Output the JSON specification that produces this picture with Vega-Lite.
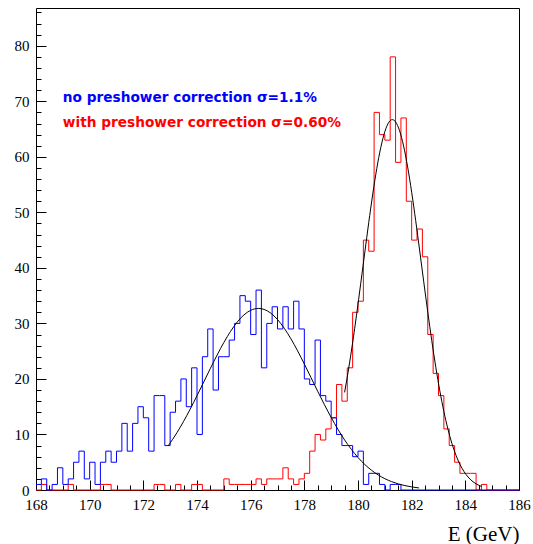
{
  "$schema": "https://vega.github.io/schema/vega-lite/v6.json",
  "width": 483,
  "height": 482,
  "autosize": {"type": "none"},
  "padding": {"left": 36, "top": 8, "right": 14, "bottom": 54},
  "background": "white",
  "config": {
    "view": {"stroke": "black", "strokeWidth": 1},
    "axis": {"grid": false, "domain": false, "labelOverlap": false, "labelFlush": false, "tickColor": "black", "labelColor": "black", "tickWidth": 1}
  },
  "resolve": {"axis": {"x": "independent", "y": "independent"}},
  "datasets": {
    "blue": [
      {"E":168,"n":1},{"E":168.2,"n":2},{"E":168.4,"n":0},{"E":168.6,"n":1},{"E":168.8,"n":4},
      {"E":169,"n":1},{"E":169.2,"n":2},{"E":169.4,"n":5},{"E":169.6,"n":7},{"E":169.8,"n":2},
      {"E":170,"n":5},{"E":170.2,"n":1},{"E":170.4,"n":5},{"E":170.6,"n":7},{"E":170.8,"n":5},
      {"E":171,"n":7},{"E":171.2,"n":12},{"E":171.4,"n":7},{"E":171.6,"n":12},{"E":171.8,"n":15},
      {"E":172,"n":13},{"E":172.2,"n":7},{"E":172.4,"n":17},{"E":172.6,"n":17},{"E":172.8,"n":8},
      {"E":173,"n":14},{"E":173.2,"n":16},{"E":173.4,"n":20},{"E":173.6,"n":15},{"E":173.8,"n":22},
      {"E":174,"n":10},{"E":174.2,"n":24},{"E":174.4,"n":29},{"E":174.6,"n":18},{"E":174.8,"n":24},
      {"E":175,"n":24},{"E":175.2,"n":27},{"E":175.4,"n":30},{"E":175.6,"n":35},{"E":175.8,"n":34},
      {"E":176,"n":28},{"E":176.2,"n":36},{"E":176.4,"n":22},{"E":176.6,"n":30},{"E":176.8,"n":33},
      {"E":177,"n":29},{"E":177.2,"n":33},{"E":177.4,"n":29},{"E":177.6,"n":34},{"E":177.8,"n":29},
      {"E":178,"n":20},{"E":178.2,"n":19},{"E":178.4,"n":27},{"E":178.6,"n":17},{"E":178.8,"n":16},
      {"E":179,"n":13},{"E":179.2,"n":10},{"E":179.4,"n":8},{"E":179.6,"n":8},{"E":179.8,"n":6},
      {"E":180,"n":7},{"E":180.2,"n":1},{"E":180.4,"n":3},{"E":180.6,"n":3},{"E":180.8,"n":1},
      {"E":181,"n":0},{"E":181.2,"n":1},{"E":181.4,"n":1},{"E":181.6,"n":0},{"E":181.8,"n":0},
      {"E":182,"n":0},{"E":182.2,"n":0},{"E":182.4,"n":0},{"E":182.6,"n":0},{"E":182.8,"n":0},
      {"E":183,"n":0},{"E":183.2,"n":0},{"E":183.4,"n":0},{"E":183.6,"n":0},{"E":183.8,"n":0},
      {"E":184,"n":0},{"E":184.2,"n":0},{"E":184.4,"n":0},{"E":184.6,"n":0},{"E":184.8,"n":0},
      {"E":185,"n":0},{"E":185.2,"n":0},{"E":185.4,"n":0},{"E":185.6,"n":0},{"E":185.8,"n":0},
      {"E":186,"n":0}
    ],
    "red": [
      {"E":168,"n":0},{"E":168.2,"n":1},{"E":168.4,"n":0},{"E":168.6,"n":0},{"E":168.8,"n":0},
      {"E":169,"n":0},{"E":169.2,"n":1},{"E":169.4,"n":0},{"E":169.6,"n":0},{"E":169.8,"n":0},
      {"E":170,"n":0},{"E":170.2,"n":0},{"E":170.4,"n":1},{"E":170.6,"n":1},{"E":170.8,"n":0},
      {"E":171,"n":0},{"E":171.2,"n":0},{"E":171.4,"n":0},{"E":171.6,"n":0},{"E":171.8,"n":0},
      {"E":172,"n":0},{"E":172.2,"n":0},{"E":172.4,"n":1},{"E":172.6,"n":1},{"E":172.8,"n":0},
      {"E":173,"n":0},{"E":173.2,"n":1},{"E":173.4,"n":0},{"E":173.6,"n":0},{"E":173.8,"n":1},
      {"E":174,"n":1},{"E":174.2,"n":0},{"E":174.4,"n":0},{"E":174.6,"n":0},{"E":174.8,"n":0},
      {"E":175,"n":2},{"E":175.2,"n":1},{"E":175.4,"n":1},{"E":175.6,"n":1},{"E":175.8,"n":1},
      {"E":176,"n":1},{"E":176.2,"n":2},{"E":176.4,"n":1},{"E":176.6,"n":2},{"E":176.8,"n":2},
      {"E":177,"n":2},{"E":177.2,"n":4},{"E":177.4,"n":2},{"E":177.6,"n":1},{"E":177.8,"n":2},
      {"E":178,"n":3},{"E":178.2,"n":7},{"E":178.4,"n":10},{"E":178.6,"n":9},{"E":178.8,"n":11},
      {"E":179,"n":13},{"E":179.2,"n":19},{"E":179.4,"n":16},{"E":179.6,"n":22},{"E":179.8,"n":32},
      {"E":180,"n":34},{"E":180.2,"n":45},{"E":180.4,"n":43},{"E":180.6,"n":68},{"E":180.8,"n":64},
      {"E":181,"n":63},{"E":181.2,"n":78},{"E":181.4,"n":59},{"E":181.6,"n":67},{"E":181.8,"n":52},
      {"E":182,"n":45},{"E":182.2,"n":47},{"E":182.4,"n":42},{"E":182.6,"n":28},{"E":182.8,"n":21},
      {"E":183,"n":17},{"E":183.2,"n":11},{"E":183.4,"n":8},{"E":183.6,"n":5},{"E":183.8,"n":3},
      {"E":184,"n":3},{"E":184.2,"n":3},{"E":184.4,"n":0},{"E":184.6,"n":1},{"E":184.8,"n":0},
      {"E":185,"n":0},{"E":185.2,"n":0},{"E":185.4,"n":0},{"E":185.6,"n":0},{"E":185.8,"n":0},
      {"E":186,"n":0}
    ],
    "fits": [
      {"s":"b","E":172.93,"n":7.98},{"s":"b","E":173.25,"n":10.3},{"s":"b","E":173.5,"n":12.36},{"s":"b","E":173.75,"n":14.6},
      {"s":"b","E":174,"n":16.98},{"s":"b","E":174.25,"n":19.44},{"s":"b","E":174.5,"n":21.91},{"s":"b","E":174.75,"n":24.31},
      {"s":"b","E":175,"n":26.56},{"s":"b","E":175.25,"n":28.56},{"s":"b","E":175.5,"n":30.25},{"s":"b","E":175.75,"n":31.53},
      {"s":"b","E":176,"n":32.36},{"s":"b","E":176.29,"n":32.7},{"s":"b","E":176.5,"n":32.52},{"s":"b","E":176.75,"n":31.85},
      {"s":"b","E":177,"n":30.7},{"s":"b","E":177.25,"n":29.14},{"s":"b","E":177.5,"n":27.23},{"s":"b","E":177.75,"n":25.05},
      {"s":"b","E":178,"n":22.69},{"s":"b","E":178.25,"n":20.23},{"s":"b","E":178.5,"n":17.76},{"s":"b","E":178.75,"n":15.35},
      {"s":"b","E":179,"n":13.06},{"s":"b","E":179.25,"n":10.94},{"s":"b","E":179.5,"n":9.02},{"s":"b","E":179.75,"n":7.33},
      {"s":"b","E":180,"n":5.85},{"s":"b","E":180.25,"n":4.61},{"s":"b","E":180.5,"n":3.57},{"s":"b","E":180.75,"n":2.72},
      {"s":"b","E":181,"n":2.04},{"s":"b","E":181.25,"n":1.51},{"s":"b","E":181.5,"n":1.1},{"s":"b","E":181.75,"n":0.79},
      {"s":"b","E":182,"n":0.56},{"s":"b","E":182.27,"n":0.37},
      {"s":"r","E":179.5,"n":17.58},{"s":"r","E":179.65,"n":21.8},{"s":"r","E":179.8,"n":26.53},{"s":"r","E":179.95,"n":31.68},
      {"s":"r","E":180.1,"n":37.12},{"s":"r","E":180.25,"n":42.68},{"s":"r","E":180.4,"n":48.14},{"s":"r","E":180.55,"n":53.3},
      {"s":"r","E":180.7,"n":57.9},{"s":"r","E":180.85,"n":61.7},{"s":"r","E":181,"n":64.53},{"s":"r","E":181.15,"n":66.23},
      {"s":"r","E":181.28,"n":66.7},{"s":"r","E":181.4,"n":66.3},{"s":"r","E":181.55,"n":64.69},{"s":"r","E":181.7,"n":61.93},
      {"s":"r","E":181.85,"n":58.17},{"s":"r","E":182,"n":53.63},{"s":"r","E":182.15,"n":48.51},{"s":"r","E":182.3,"n":43.05},
      {"s":"r","E":182.45,"n":37.49},{"s":"r","E":182.6,"n":32.04},{"s":"r","E":182.75,"n":26.87},{"s":"r","E":182.9,"n":22.1},
      {"s":"r","E":183.05,"n":17.84},{"s":"r","E":183.2,"n":14.14},{"s":"r","E":183.35,"n":10.99},{"s":"r","E":183.5,"n":8.38},
      {"s":"r","E":183.65,"n":6.27},{"s":"r","E":183.8,"n":4.61},{"s":"r","E":183.95,"n":3.32},{"s":"r","E":184.1,"n":2.35},
      {"s":"r","E":184.25,"n":1.63},{"s":"r","E":184.4,"n":1.11},{"s":"r","E":184.6,"n":0.65}
    ],
    "label1": [{"E":169.0,"n":69.9,"t":"no preshower correction σ=1.1%"}],
    "label2": [{"E":169.0,"n":65.4,"t":"with preshower correction σ=0.60%"}]
  },
  "layer": [
    {
      "data": {"name": "red"},
      "mark": {"type": "line", "interpolate": "step-after", "color": "#ff0000", "strokeWidth": 1},
      "encoding": {
        "x": {
          "field": "E", "type": "quantitative",
          "scale": {"domain": [168, 186], "nice": false, "zero": false},
          "axis": {
            "orient": "bottom",
            "values": [168,168.5,169,169.5,170,170.5,171,171.5,172,172.5,173,173.5,174,174.5,175,175.5,176,176.5,177,177.5,178,178.5,179,179.5,180,180.5,181,181.5,182,182.5,183,183.5,184,184.5,185,185.5,186],
            "format": ".0f",
            "labelExpr": "datum.value % 2 === 0 ? datum.label : ''",
            "tickSize": {"condition": {"test": "datum.value % 2 === 0", "value": -10}, "value": -5},
            "labelPadding": 17,
            "labelFont": "Liberation Serif", "labelFontSize": 15,
            "title": "E (GeV)", "titleAnchor": "end", "titleFont": "Liberation Serif", "titleFontSize": 21,
            "titleFontWeight": "normal", "titleColor": "black", "titlePadding": 6
          }
        },
        "y": {
          "field": "n", "type": "quantitative",
          "scale": {"domain": [0, 86.8], "nice": false, "zero": true},
          "axis": {
            "orient": "left",
            "values": [0,2,4,6,8,10,12,14,16,18,20,22,24,26,28,30,32,34,36,38,40,42,44,46,48,50,52,54,56,58,60,62,64,66,68,70,72,74,76,78,80,82,84,86],
            "format": ".0f",
            "labelExpr": "datum.value % 10 === 0 ? datum.label : ''",
            "tickSize": {"condition": {"test": "datum.value % 10 === 0", "value": -10}, "value": -5},
            "labelPadding": 17,
            "labelFont": "Liberation Serif", "labelFontSize": 15,
            "title": null
          }
        }
      }
    },
    {
      "data": {"name": "blue"},
      "mark": {"type": "line", "interpolate": "step-after", "color": "#0000ff", "strokeWidth": 1},
      "encoding": {
        "x": {"field": "E", "type": "quantitative", "axis": null},
        "y": {"field": "n", "type": "quantitative", "axis": null}
      }
    },
    {
      "data": {"name": "fits"},
      "mark": {"type": "line", "interpolate": "monotone", "color": "black", "strokeWidth": 1},
      "encoding": {
        "x": {"field": "E", "type": "quantitative", "axis": null},
        "y": {"field": "n", "type": "quantitative", "axis": null},
        "detail": {"field": "s", "type": "nominal"}
      }
    },
    {
      "data": {"name": "label1"},
      "mark": {"type": "text", "align": "left", "baseline": "alphabetic", "color": "#0000ff", "font": "DejaVu Sans", "fontSize": 13.7, "fontWeight": "bold"},
      "encoding": {
        "x": {"field": "E", "type": "quantitative", "axis": null},
        "y": {"field": "n", "type": "quantitative", "axis": null},
        "text": {"field": "t"}
      }
    },
    {
      "data": {"name": "label2"},
      "mark": {"type": "text", "align": "left", "baseline": "alphabetic", "color": "#ff0000", "font": "DejaVu Sans", "fontSize": 13.7, "fontWeight": "bold"},
      "encoding": {
        "x": {"field": "E", "type": "quantitative", "axis": null},
        "y": {"field": "n", "type": "quantitative", "axis": null},
        "text": {"field": "t"}
      }
    }
  ]
}
